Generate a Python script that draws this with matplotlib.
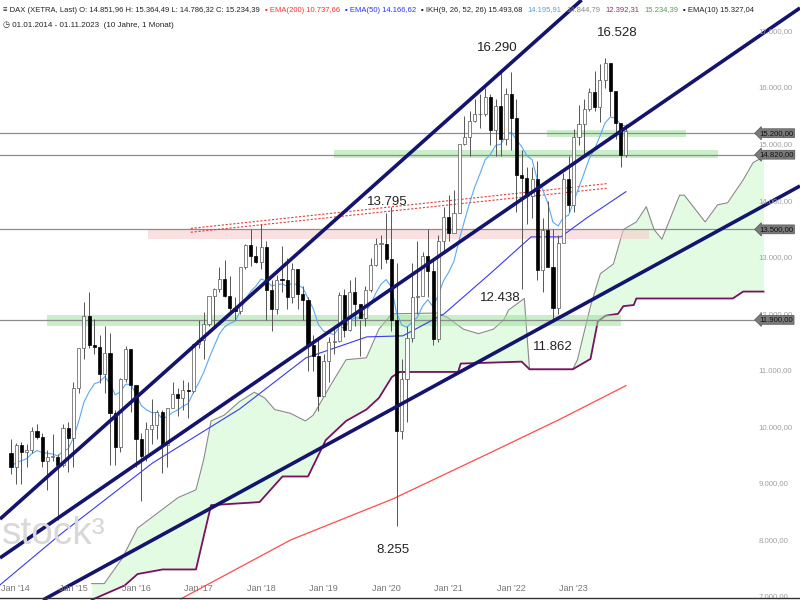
import matplotlib
matplotlib.use("Agg")
import matplotlib.pyplot as plt
import numpy as np
import pandas as pd

plt.rcParams['font.family'] = ['Liberation Sans', 'DejaVu Sans']

# ---------------- data (monthly, index 0 = Jan 2014) ----------------
closes = [9306, 9692, 9556, 9603, 9943, 9833, 9407, 9470, 9474, 9326, 9980, 9806,
          10694, 11401, 11966, 11454, 11413, 10945, 11309, 10259, 9660, 10850, 11382, 10743,
          9798, 9495, 9966, 10039, 10263, 9680, 10337, 10593, 10511, 10665, 10640, 11481,
          11535, 11834, 12313, 12438, 12615, 12325, 12118, 12056, 12829, 13230, 13024, 12918,
          13189, 12436, 12097, 12612, 12605, 12306, 12806, 12364, 12247, 11447, 11257, 10559,
          11173, 11516, 11526, 12344, 11727, 12399, 12189, 11939, 12428, 12867, 13236, 13249,
          12981, 11890, 9936, 10862, 11587, 12311, 12313, 13033, 12761, 11556, 13291, 13719,
          13433, 13786, 15008, 15136, 15421, 15531, 15544, 15835, 15261, 15688, 15100, 15885,
          15471, 14461, 14415, 14098, 14388, 12784, 13484, 12835, 12114, 13254, 14397, 13924,
          15128, 15365, 15629, 15922, 15664, 16148, 16447, 15947, 15387, 14810, 15234]
highs = [9794, 9720, 9740, 9700, 10000, 10050, 9900, 9600, 9890, 9530, 10050, 10093,
         10800, 11400, 12220, 12390, 11920, 11630, 11800, 11670, 10300, 10880, 11430, 11300,
         10480, 9900, 10100, 10500, 10300, 10300, 10340, 10800, 10700, 10830, 10800, 11480,
         11890, 12030, 12310, 12460, 12840, 12950, 12680, 12300, 12830, 13240, 13500, 13200,
         13596, 13300, 12600, 12690, 13200, 13000, 12900, 12800, 12500, 12300, 11640, 11600,
         11300, 11600, 11800, 12400, 12450, 12600, 12650, 11900, 12500, 13000, 13350, 13400,
         13795, 13900, 12900, 11200, 11800, 12900, 13300, 13100, 13500, 13000, 13400, 13900,
         14100, 14200, 15000, 15500, 15600, 15800, 15900, 16000, 15900, 15800, 16290, 16000,
         16285, 15800, 14900, 14600, 14600, 14700, 13700, 14000, 13500, 13400, 14500, 14800,
         15280, 15700, 15800, 16000, 16300, 16430, 16528, 16100, 15900, 15300, 15364]
lows = [9166, 9000, 9000, 9300, 9550, 9800, 9300, 8900, 9400, 8355, 9300, 9218,
        9300, 10600, 11200, 11400, 11300, 10780, 10600, 9330, 9330, 9560, 10800, 10270,
        9300, 8700, 9400, 9700, 9800, 9200, 9300, 10400, 10200, 10300, 10170, 10600,
        11400, 11200, 11800, 11800, 12400, 12300, 12000, 11900, 12000, 12800, 12850, 12900,
        12800, 11900, 11700, 12000, 12400, 12100, 12200, 12100, 11900, 11000, 11000, 10280,
        10600, 10800, 11300, 11500, 11600, 11700, 11800, 11260, 11800, 12400, 12850, 12800,
        12900, 11700, 8255, 9800, 10100, 11500, 12000, 12600, 12300, 11450, 11500, 13100,
        13300, 13600, 13900, 15000, 14800, 15400, 15300, 15500, 15000, 14800, 14800, 15000,
        14900, 13800, 12438, 13600, 13700, 12600, 12400, 12900, 11862, 12000, 13300, 13800,
        13800, 15000, 14800, 15600, 15600, 15400, 16000, 15500, 15100, 14600, 14786]
first_open = 9552

ema200_m = [32.6, 53.7, 73.3, 91.9, 105.5, 118.0]
ema200_v = [6967, 8010, 8735, 9548, 10150, 10737]
ema50_m = [-2.1, 9.6, 27.2, 43.9, 56.6, 68.3, 75.2, 83.1, 91.9, 99.8, 105.5, 110.5, 118.0]
ema50_v = [7214, 8116, 9371, 10326, 11228, 11599, 11617, 12006, 12713, 13367, 13367, 13703, 14166]

spanA_m = [15.5, 17.9, 21.3, 24.3, 28.2, 32.1, 35.5, 37.0, 38.4, 40.9, 43.8, 46.7, 48.7, 50.6, 53.6,
           56.5, 58.0, 61.4, 64.3, 68.2, 70.6, 73.1, 81.9, 83.8, 86.8, 89.7, 92.6, 94.6, 95.5, 98.5,
           99.5, 107.8, 108.7, 111.2, 113.1, 115.6, 117.5, 120.0, 121.9, 123.4, 124.9, 128.3, 129.2,
           133.2, 135.6, 137.5, 140.5, 142.4, 144.4]
spanA_v = [7237, 7237, 7677, 8218, 8489, 8759, 8895, 9436, 10113, 10214, 10451, 10620, 10518, 10315, 10248,
           10113, 10214, 10755, 11195, 11229, 11736, 12007, 12021, 11939, 11736, 11655, 11736, 11906, 12075, 12278,
           11026, 11026, 11195, 12142, 12717, 12887, 13496, 13631, 13901, 13496, 13326, 14104, 14104,
           13631, 13935, 13969, 14375, 14680, 14781]
spanB_m = [15.5, 21.8, 24.3, 29.1, 35.5, 38.4, 47.7, 52.1, 57.0, 60.4, 64.3, 68.2, 70.6, 73.1, 74.6,
           85.8, 86.3, 98.0, 99.5, 107.8, 111.2, 112.6, 114.1, 116.5, 117.5, 119.5, 120.0, 138.5, 140.5, 144.4]
spanB_v = [6950, 7203, 7406, 7487, 7487, 8624, 8678, 9131, 9131, 9774, 10112, 10315, 10518, 10891, 10979,
           10979, 11127, 11161, 11026, 11026, 11209, 11872, 11973, 12007, 12142, 12162, 12278, 12278, 12400, 12400]

hlines = [15200, 14820, 13500, 11900]
y_ticks = [7000, 8000, 9000, 10000, 11000, 12000, 13000, 14000, 15000, 16000, 17000]
x_ticks = [0, 12, 24, 36, 48, 60, 72, 84, 96, 108]
x_labels = ["Jan '14", "Jan '15", "Jan '16", "Jan '17", "Jan '18", "Jan '19", "Jan '20", "Jan '21", "Jan '22", "Jan '23"]


def de(v):
    return f"{v:,.2f}".replace(',', 'X').replace('.', ',').replace('X', '.')


# ---------------- figure ----------------
fig = plt.figure(figsize=(8, 6), dpi=100)
ax = fig.add_axes([0, 0, 1, 1])
ax.set_xlim(-2.1, 151.4)
ax.set_ylim(6947, 17555)
ax.axis('off')

n = len(closes)
idx = np.arange(n)
opens = [first_open] + closes[:-1]

# cloud
grid = np.linspace(15.5, 144.4, 1500)
A = np.interp(grid, spanA_m, spanA_v)
B = np.interp(grid, spanB_m, spanB_v)
ax.fill_between(grid, A, B, color='#e2fbe2', lw=0, zorder=1)
ax.plot(spanA_m, spanA_v, color='#8a8a8a', lw=0.8, zorder=2)
ax.plot(spanB_m, spanB_v, color='#7a1060', lw=1.3, zorder=2)

# bands
ax.fill_between([62, 135.6], 14760, 14900, color='#9ee09e', alpha=0.55, lw=0, zorder=2)
ax.fill_between([102.8, 129.5], 15140, 15250, color='#9ee09e', alpha=0.55, lw=0, zorder=2)
ax.fill_between([6.9, 117], 11790, 11990, color='#9ee09e', alpha=0.55, lw=0, zorder=2)
ax.fill_between([26.3, 122.4], 13330, 13500, color='#f7c9c9', alpha=0.55, lw=0, zorder=2)
for h in hlines:
    ax.plot([-2.1, 143.0], [h, h], color='#8c8c8c', lw=0.9, zorder=2)

# red dashed channel
ax.plot([34.5, 114.3], [13516, 14308], color='#e04040', lw=0.8, ls=(0, (2, 1.5)), zorder=3)
ax.plot([34.5, 114.3], [13449, 14227], color='#e04040', lw=0.8, ls=(0, (2, 1.5)), zorder=3)

# EMAs
ax.plot(ema200_m, ema200_v, color='#ff4b4b', lw=0.9, zorder=3)
ax.plot(ema50_m, ema50_v, color='#3a3af0', lw=0.8, zorder=3)
ema10 = pd.Series(closes).ewm(span=10, adjust=False).mean()
ax.plot(idx, ema10, color='#5aa9f5', lw=0.8, zorder=3)

# candles
for i in range(n):
    o, c, h, l = opens[i], closes[i], highs[i], lows[i]
    ax.vlines(i, l, h, color='#555555', lw=0.7, zorder=4)
    up = c >= o
    ax.bar(i, abs(c - o) if abs(c - o) > 15 else 15, bottom=min(o, c), width=0.6,
           color='white' if up else 'black', edgecolor='#555555' if up else 'black', lw=0.5, zorder=5)

# trend lines
for (x0, y0, x1, y1) in [(-2.1, 8378, 109.5, 17555), (-2.1, 7691, 151.4, 17414), (6.14, 6947, 151.4, 14267)]:
    ax.plot([x0, x1], [y0, y1], color='#14146e', lw=2.6, solid_capstyle='butt', zorder=6)

# annotations
for (x, y, t) in [(93.3, 16700, '16.290'), (116.3, 16980, '16.528'), (72.3, 13990, '13.795'),
                  (93.8, 12280, '12.438'), (104.0, 11420, '11.862'), (73.3, 7830, '8.255')]:
    ax.text(x, y, t, fontsize=9.5, ha='center', va='center', color='#222222', zorder=7)

# right axis labels
for v in y_ticks:
    ax.text(143.4, v, de(v), fontsize=5.6, color='#a0a0a0', ha='left', va='center', zorder=7)
for h in hlines:
    ax.text(143.6, h, de(h), fontsize=5.6, color='#111111', ha='left', va='center', zorder=8,
            bbox=dict(boxstyle='larrow,pad=0.12', fc='#7a7a7a', ec='#555555', lw=0.5))

# x axis
ax.axhline(6975, color='#333333', lw=1.0, zorder=7)
for x, lab in zip(x_ticks, x_labels):
    if x == 0:
        ax.text(-1.9, 7150, lab, fontsize=6.5, color='#777777', ha='left', va='center', zorder=7)
    else:
        ax.text(x, 7150, lab, fontsize=6.5, color='#777777', ha='center', va='center', zorder=7)

# watermark
fig.text(0.003, 0.11, 'stock³', fontsize=28, color='#d8d8d8', ha='left', va='center', zorder=0)

# header (laid out sequentially)
hdr = [('≡ DAX (XETRA, Last) O: 14.851,96 H: 15.364,49 L: 14.786,32 C: 15.234,39', '#222222'),
       ('▪ EMA(200) 10.737,66', '#ff3030'), ('▪ EMA(50) 14.166,62', '#3030ff'),
       ('▪ IKH(9, 26, 52, 26) 15.493,68', '#222222'), ('14.195,91', '#5aa0e0'),
       ('14.844,79', '#888888'), ('12.392,31', '#8a3070'), ('15.234,39', '#5a9a5a'),
       ('▪ EMA(10) 15.327,04', '#222222')]
fig.canvas.draw()
r = fig.canvas.get_renderer()
xp = 3
for t, c in hdr:
    tt = fig.text(xp / 800, 1 - 10 / 600, t, fontsize=5.5, color=c, ha='left', va='center')
    xp += tt.get_window_extent(r).width + 5
fig.text(3 / 800, 1 - 25 / 600, '◷ 01.01.2014 - 01.11.2023  (10 Jahre, 1 Monat)', fontsize=5.8,
         color='#222222', ha='left', va='center')

fig.savefig('out.png', dpi=100)
